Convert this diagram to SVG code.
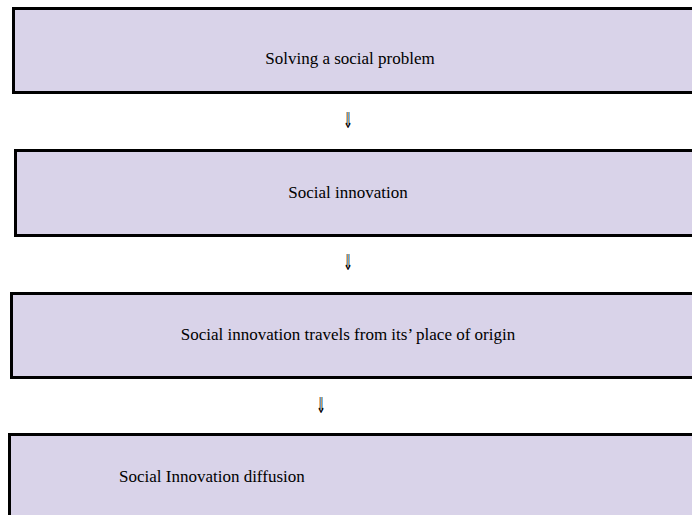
<svg xmlns="http://www.w3.org/2000/svg" width="692" height="515" viewBox="0 0 692 515">
<style>
.box{fill:#d9d3e9;stroke:#000;stroke-width:3}
.lbl{font-family:"Liberation Serif","Times New Roman",serif;font-size:17px;fill:#000}
.arr{font-family:"DejaVu Sans",sans-serif;font-size:22px;fill:#000;text-anchor:middle}
</style>
<rect width="692" height="515" fill="#fff"/>
<g id="node1">
<rect class="box" x="13.5" y="8.5" width="700" height="84"/>
<text class="lbl" x="350" y="64" text-anchor="middle">Solving a social problem</text>
</g>
<g id="node2">
<rect class="box" x="15.5" y="150.5" width="700" height="85"/>
<text class="lbl" x="348" y="198" text-anchor="middle">Social innovation</text>
</g>
<g id="node3">
<rect class="box" x="11.5" y="293.5" width="700" height="84"/>
<text class="lbl" x="348" y="340" text-anchor="middle">Social innovation travels from its’ place of origin</text>
</g>
<g id="node4">
<rect class="box" x="9.5" y="434.5" width="700" height="100"/>
<text class="lbl" x="119" y="482">Social Innovation diffusion</text>
</g>
<g id="connectors">
<text class="arr" transform="translate(348 128) scale(0.55 1)">⇓</text>
<text class="arr" transform="translate(348 270) scale(0.55 1)">⇓</text>
<text class="arr" transform="translate(321 413) scale(0.55 1)">⇓</text>
</g>
</svg>
